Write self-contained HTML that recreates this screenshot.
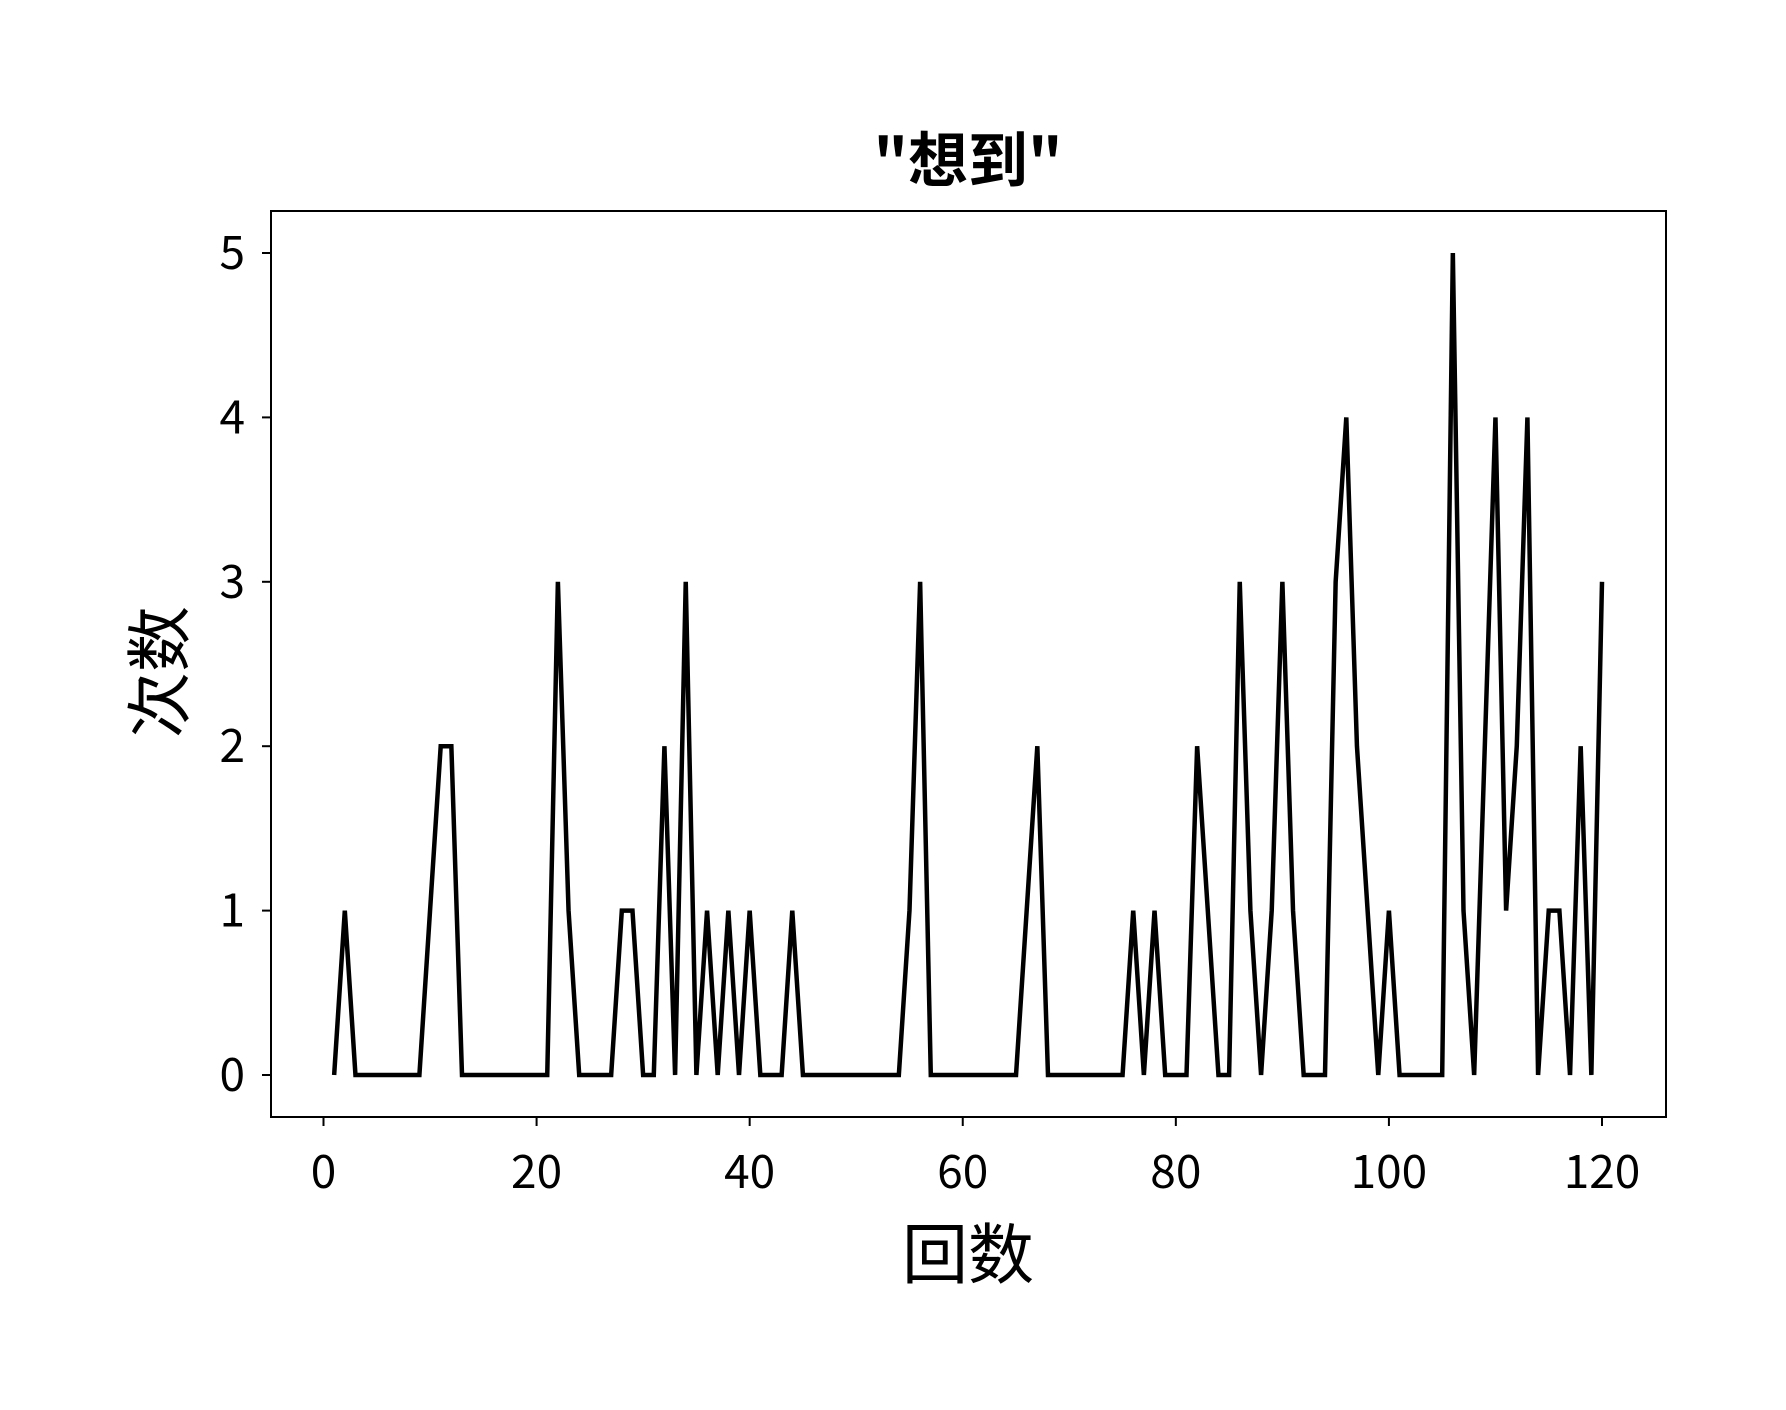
<!DOCTYPE html>
<html><head><meta charset="utf-8"><style>
body{margin:0;background:#fff}
svg text{font-family:"Noto Sans CJK SC","Liberation Sans",sans-serif;fill:#000}
</style></head><body>
<svg id="c" width="1786" height="1405" viewBox="0 0 1786 1405" xmlns="http://www.w3.org/2000/svg">
<rect width="1786" height="1405" fill="#fff"/>
<text x="968" y="182" font-size="60" font-weight="bold" text-anchor="middle">"想到"</text>
<text x="968" y="1278" font-size="66" text-anchor="middle">回数</text>
<text transform="translate(183,672) rotate(-90)" font-size="66" text-anchor="middle">次数</text>
<g id="ticks"></g>
<path id="line" fill="none" stroke="#000" stroke-width="4.5" stroke-linejoin="miter"/>
<rect x="271" y="211" width="1395" height="906" fill="none" stroke="#000" stroke-width="2"/>
</svg>
<script>
const values = [0,1,0,0,0,0,0,0,0,1,2,2,0,0,0,0,0,0,0,0,0,3,1,0,0,0,0,1,1,0,0,2,0,3,0,1,0,1,0,1,0,0,0,1,0,0,0,0,0,0,0,0,0,0,1,3,0,0,0,0,0,0,0,0,0,1,2,0,0,0,0,0,0,0,0,1,0,1,0,0,0,2,1,0,0,3,1,0,1,3,1,0,0,0,3,4,2,1,0,1,0,0,0,0,0,5,1,0,2,4,1,2,4,0,1,1,0,2,0,3];
const xTicks = [0,20,40,60,80,100,120];
const yTicks = [0,1,2,3,4,5];
const NS="http://www.w3.org/2000/svg";
function sx(v){return 323.5+(1602-323.5)*v/120;}
function sy(v){return 1075-(1075-253)*v/5;}
let d="";
values.forEach((v,i)=>{d+=(i?"L":"M")+sx(i+1).toFixed(2)+","+sy(v).toFixed(2);});
document.getElementById('line').setAttribute('d',d);
const g=document.getElementById('ticks');
xTicks.forEach(t=>{
  const l=document.createElementNS(NS,'line');
  l.setAttribute('x1',sx(t));l.setAttribute('x2',sx(t));l.setAttribute('y1',1117);l.setAttribute('y2',1126);
  l.setAttribute('stroke','#000');l.setAttribute('stroke-width','2');
  
  
  g.appendChild(l);
  const tx=document.createElementNS(NS,'text');
  tx.setAttribute('x',sx(t));tx.setAttribute('y',1188);tx.setAttribute('font-size','46');tx.setAttribute('text-anchor','middle');
  tx.textContent=t;
  
  
  g.appendChild(tx);
});
yTicks.forEach(t=>{
  const l=document.createElementNS(NS,'line');
  l.setAttribute('x1',262);l.setAttribute('x2',271);l.setAttribute('y1',sy(t));l.setAttribute('y2',sy(t));
  l.setAttribute('stroke','#000');l.setAttribute('stroke-width','2');
  
  
  g.appendChild(l);
  const tx=document.createElementNS(NS,'text');
  tx.setAttribute('x',245);tx.setAttribute('y',sy(t)+16);tx.setAttribute('font-size','46');tx.setAttribute('text-anchor','end');
  tx.textContent=t;
  
  
  g.appendChild(tx);
});
</script>
</body></html>
